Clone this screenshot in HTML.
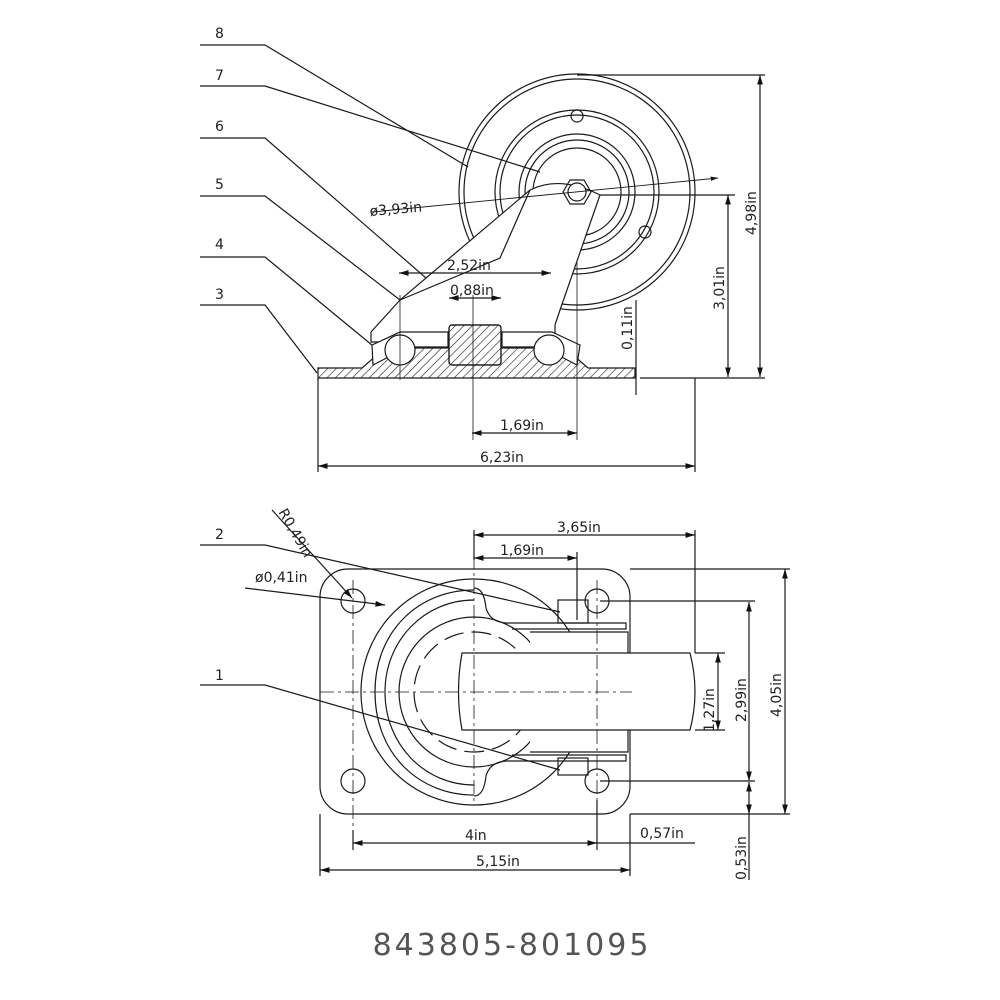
<!DOCTYPE html>
<html><head><style>
html,body{margin:0;padding:0;background:#fff;}
svg{display:block;}
text{font-family:"DejaVu Sans","Liberation Sans",sans-serif;fill:#222;}
</style></head><body>
<svg width="1000" height="1000" viewBox="0 0 1000 1000" xmlns="http://www.w3.org/2000/svg">
<defs>
<marker id="a" viewBox="0 0 10 6" refX="10" refY="3" markerWidth="8" markerHeight="5" orient="auto-start-reverse"><path d="M0,0L10,3L0,6z" fill="#111"/></marker>
<pattern id="h" width="6" height="6" patternUnits="userSpaceOnUse" patternTransform="rotate(45)"><line x1="0" y1="0" x2="0" y2="6" stroke="#222" stroke-width="1.2"/></pattern>
</defs>
<g fill="none" stroke="#1a1a1a" stroke-width="1.2">
<!-- TOP VIEW: leader lines -->
<path d="M200,45H265L468,167"/><path d="M200,86H265L540,172"/><path d="M200,138H265L472,318"/>
<path d="M200,196H265L400,300"/><path d="M200,257H265L378,350"/><path d="M200,305H265L317,373"/>
<!-- wheel -->
<circle cx="577" cy="192" r="118"/><circle cx="577" cy="192" r="113"/>
<circle cx="577" cy="192" r="82"/><circle cx="577" cy="192" r="77"/>
<circle cx="577" cy="192" r="58"/><circle cx="577" cy="192" r="52"/><circle cx="577" cy="192" r="44"/>
<circle cx="577" cy="116" r="6"/><circle cx="645" cy="232" r="6"/>
<!-- fork -->
<path d="M371,332L400,300L530,190Q560,175 600,195L560,310L555,325" fill="#fff"/>
<path d="M400,300L500,258L530,190" />
<circle cx="577" cy="192" r="9" fill="#fff"/><path d="M563,192l7,-12h14l7,12l-7,12h-14z"/>
<path d="M371,332v10h12" /><path d="M555,325v10h-12"/>
<!-- base plate -->
<path d="M318,368H362L385,348H565L588,368H635V378H318Z" fill="url(#h)"/>
<path d="M372,345l28,-13h48v15h-40l-35,18z" fill="#fff"/>
<path d="M580,345l-28,-13h-50v15h40l35,18z" fill="#fff"/>
<rect x="449" y="325" width="52" height="40" rx="3" fill="#fff"/>
<rect x="449" y="325" width="52" height="40" rx="3" fill="url(#h)"/>
<circle cx="400" cy="350" r="15" fill="#fff"/><circle cx="549" cy="350" r="15" fill="#fff"/>
<!-- centerlines -->
<path d="M577,262V380M400,295V380M473,295V440M577,360V440" stroke-width="0.8"/>
<path d="M372,212L718,178" stroke-width="0.9" marker-end="url(#a)"/>
<!-- dims top -->
<path d="M318,378V472M695,378V472M577,75H765M600,195H735M640,378H765"/>
<path d="M318,466H695" marker-start="url(#a)" marker-end="url(#a)"/>
<path d="M472,433H577" marker-start="url(#a)" marker-end="url(#a)"/>
<path d="M399,273H551" marker-start="url(#a)" marker-end="url(#a)"/>
<path d="M449,298H501" marker-start="url(#a)" marker-end="url(#a)"/>
<path d="M760,75V377" marker-start="url(#a)" marker-end="url(#a)"/>
<path d="M728,195V377" marker-start="url(#a)" marker-end="url(#a)"/>
<path d="M636,300V395"/>
<!-- BOTTOM VIEW -->
<path d="M200,545H265L560,612"/><path d="M200,685H265L560,770"/>
<path d="M272,510L352,598" marker-end="url(#a)"/><path d="M245,588L385,605" marker-end="url(#a)"/>
<rect x="320" y="569" width="310" height="245" rx="28"/>
<circle cx="353" cy="601" r="12"/><circle cx="597" cy="601" r="12"/><circle cx="353" cy="781" r="12"/><circle cx="597" cy="781" r="12"/>
<circle cx="474" cy="692" r="113"/>
<path d="M474,590C420,590 375,630 375,692C375,755 420,795 474,795" />
<path d="M474,600C425,600 385,640 385,692C385,745 425,785 474,785"/>
<circle cx="474" cy="692" r="75"/><circle cx="474" cy="692" r="60" stroke-dasharray="20 8"/>
<path d="M474,588q10,0 12,20q4,14 20,15h120v6H512" />
<path d="M474,796q10,0 12,-20q4,-14 20,-15h120v-6H512"/>
<rect x="558" y="600" width="30" height="23"/><rect x="558" y="758" width="30" height="17"/>
<path d="M530,632H628V752H530" fill="#fff"/>
<path d="M462,653H690Q700,692 690,730H462Q455,692 462,653z" fill="#fff"/>
<path d="M320,692H632M474,530V805M353,580V830M597,580V830" stroke-width="0.8" stroke-dasharray="14 4 3 4"/>
<path d="M630,569H790M600,601H755M695,653H725M695,730H725M600,781H755M630,814H790"/>
<path d="M474,530V560M695,530V653M577,552V620M320,814V876M630,814V876M353,830V850M597,800V850"/>
<path d="M474,535H695" marker-start="url(#a)" marker-end="url(#a)"/>
<path d="M474,558H577" marker-start="url(#a)" marker-end="url(#a)"/>
<path d="M353,843H597" marker-start="url(#a)" marker-end="url(#a)"/>
<path d="M597,843H630H695"/>
<path d="M320,870H630" marker-start="url(#a)" marker-end="url(#a)"/>
<path d="M718,653V730" marker-start="url(#a)" marker-end="url(#a)"/>
<path d="M749,602V781" marker-start="url(#a)" marker-end="url(#a)"/>
<path d="M749,782V814" marker-start="url(#a)" marker-end="url(#a)"/><path d="M749,814V880"/>
<path d="M785,569V814" marker-start="url(#a)" marker-end="url(#a)"/>
</g>
<g font-size="14">
<text x="215" y="38">8</text><text x="215" y="80">7</text><text x="215" y="131">6</text>
<text x="215" y="189">5</text><text x="215" y="249">4</text><text x="215" y="299">3</text>
<text x="215" y="539">2</text><text x="215" y="680">1</text>
<text x="370" y="216" transform="rotate(-5 370 216)">ø3,93in</text>
<text x="447" y="270">2,52in</text><text x="450" y="295">0,88in</text>
<text x="500" y="430">1,69in</text><text x="480" y="462">6,23in</text>
<text transform="translate(756,235) rotate(-90)">4,98in</text>
<text transform="translate(724,310) rotate(-90)">3,01in</text>
<text transform="translate(632,350) rotate(-90)">0,11in</text>
<text x="557" y="532">3,65in</text><text x="500" y="555">1,69in</text>
<text transform="translate(278,512) rotate(60)">R0,49in</text>
<text x="255" y="582">ø0,41in</text>
<text x="465" y="840">4in</text><text x="476" y="866">5,15in</text><text x="640" y="838">0,57in</text>
<text transform="translate(714,732) rotate(-90)">1,27in</text>
<text transform="translate(746,722) rotate(-90)">2,99in</text>
<text transform="translate(781,717) rotate(-90)">4,05in</text>
<text transform="translate(746,880) rotate(-90)">0,53in</text>
</g>
<text x="512" y="955" font-size="30" text-anchor="middle" letter-spacing="3" style="fill:#555">843805-801095</text>
</svg>
</body></html>
